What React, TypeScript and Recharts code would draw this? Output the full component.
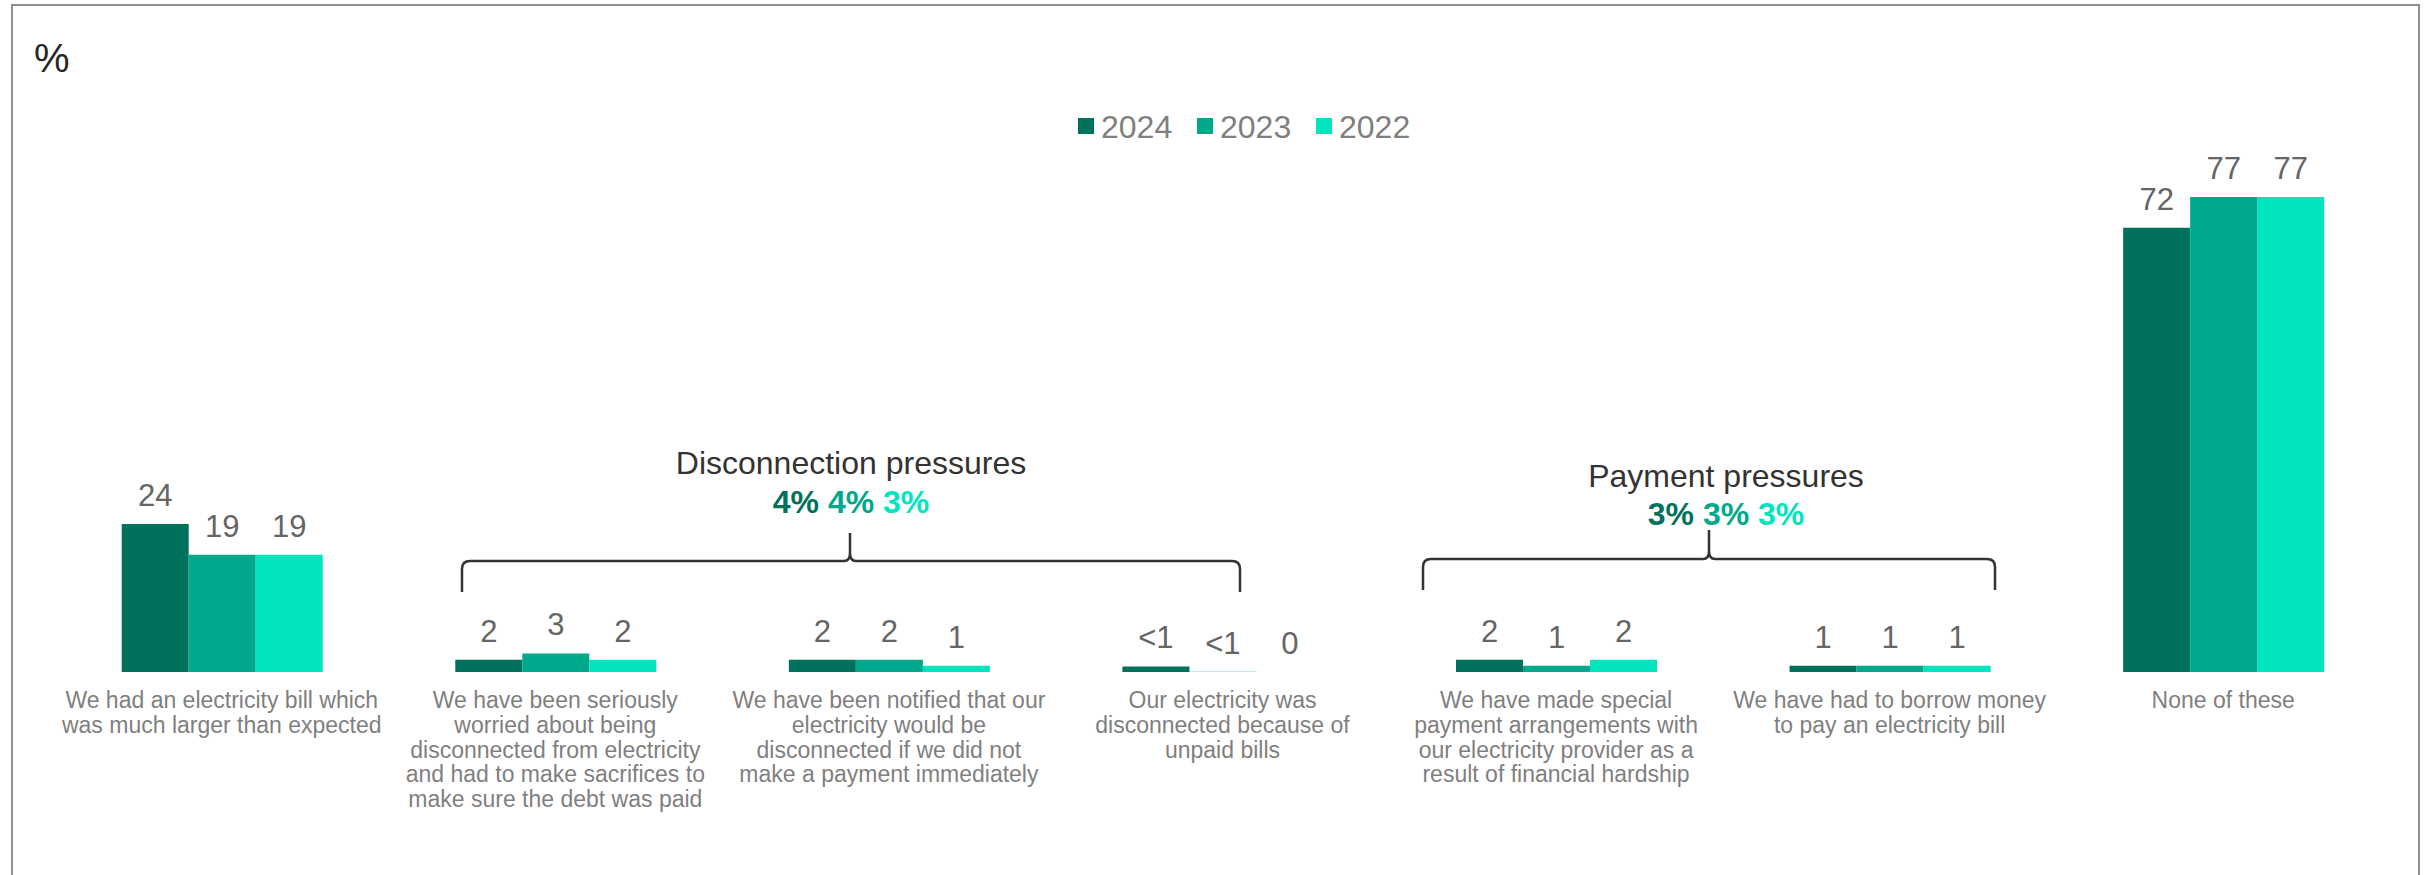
import React from 'react';
import { BarChart, Bar, XAxis, YAxis, LabelList } from 'recharts';

// ---------- data ----------
const categories: string[] = [
  'We had an electricity bill which\nwas much larger than expected',
  'We have been seriously\nworried about being\ndisconnected from electricity\nand had to make sacrifices to\nmake sure the debt was paid',
  'We have been notified that our\nelectricity would be\ndisconnected if we did not\nmake a payment immediately',
  'Our electricity was\ndisconnected because of\nunpaid bills',
  'We have made special\npayment arrangements with\nour electricity provider as a\nresult of financial hardship',
  'We have had to borrow money\nto pay an electricity bill',
  'None of these',
];
const seriesNames: string[] = ['2024', '2023', '2022'];
const values2024: number[] = [24, 2, 2, 0.9, 2, 1, 72];
const values2023: number[] = [19, 3, 2, 0.05, 1, 1, 77];
const values2022: number[] = [19, 2, 1, 0, 2, 1, 77];
const labels2024: string[] = ['24', '2', '2', '<1', '2', '1', '72'];
const labels2023: string[] = ['19', '3', '2', '<1', '1', '1', '77'];
const labels2022: string[] = ['19', '2', '1', '0', '2', '1', '77'];
const disconnectionTitle = 'Disconnection pressures';
const disconnectionTotals: string[] = ['4%', '4%', '3%'];
const paymentTitle = 'Payment pressures';
const paymentTotals: string[] = ['3%', '3%', '3%'];
const unitLabel = '%';

// ---------- styles ----------
const COLORS = ['#00725B', '#00A98B', '#00E5BE'];
const FONT = '"Liberation Sans", Arial, Helvetica, sans-serif';

const data = categories.map((c, i) => ({
  category: c,
  v2024: values2024[i],
  v2023: values2023[i],
  v2022: values2022[i],
  l2024: labels2024[i],
  l2023: labels2023[i],
  l2022: labels2022[i],
}));

const CategoryTick = (props: any) => {
  const { x, y, payload } = props;
  const lines = String(payload.value).split('\n');
  return (
    <text x={x} y={y + 36} textAnchor="middle" fill="#7f7f7f" fontSize={23} fontFamily={FONT}>
      {lines.map((l, i) => (
        <tspan key={i} x={x} dy={i === 0 ? 0 : 24.8}>
          {l}
        </tspan>
      ))}
    </text>
  );
};

function bracePath(x1: number, x2: number, xm: number, yTop: number, yBottom: number, yTip: number) {
  const r = 8;
  return [
    `M ${x1} ${yBottom}`,
    `L ${x1} ${yTop + r}`,
    `Q ${x1} ${yTop} ${x1 + r} ${yTop}`,
    `L ${xm - 6} ${yTop}`,
    `Q ${xm} ${yTop} ${xm} ${yTop - 8}`,
    `L ${xm} ${yTip}`,
    `M ${xm} ${yTop - 8}`,
    `Q ${xm} ${yTop} ${xm + 6} ${yTop}`,
    `L ${x2 - r} ${yTop}`,
    `Q ${x2} ${yTop} ${x2} ${yTop + r}`,
    `L ${x2} ${yBottom}`,
  ].join(' ');
}

const GroupNote = ({ cx, titleY, pctY, title, totals }: any) => (
  <g fontFamily={FONT}>
    <text x={cx} y={titleY} textAnchor="middle" fontSize={32} fill="#333333">
      {title}
    </text>
    <text x={cx} y={pctY} textAnchor="middle" fontSize={32} fontWeight="bold">
      {totals.map((t: string, i: number) => (
        <tspan key={i} fill={COLORS[i]}>
          {(i > 0 ? ' ' : '') + t}
        </tspan>
      ))}
    </text>
  </g>
);

export default function App() {
  return (
    <div
      style={{
        position: 'absolute',
        left: 0,
        top: 0,
        width: 2433,
        height: 875,
        overflow: 'hidden',
        background: '#ffffff',
        fontFamily: FONT,
      }}
    >
      <div
        style={{
          position: 'absolute',
          left: 11,
          top: 4,
          width: 2405,
          height: 1000,
          border: '2px solid #8f8f8f',
          borderBottom: 'none',
        }}
      />
      <div style={{ position: 'absolute', left: 0, top: 0 }}>
        <BarChart
          width={2433}
          height={875}
          data={data}
          margin={{ top: 55, right: 43, left: 55, bottom: 53 }}
          barCategoryGap="20%"
          barGap={0}
        >
          <XAxis
            dataKey="category"
            interval={0}
            tickLine={false}
            axisLine={false}
            tickSize={0}
            tickMargin={0}
            height={150}
            tick={<CategoryTick />}
          />
          <YAxis hide domain={[0, 100]} />
          {['2024', '2023', '2022'].map((s, i) => (
            <Bar
              key={s}
              dataKey={'v' + s}
              name={seriesNames[i]}
              fill={COLORS[i]}
              minPointSize={0.01}
              isAnimationActive={false}
            >
              <LabelList dataKey={'l' + s} position="top" offset={18} fill="#656565" fontSize={31} fontFamily={FONT} />
            </Bar>
          ))}
        </BarChart>
      </div>
      <svg
        width={2433}
        height={875}
        style={{ position: 'absolute', left: 0, top: 0, pointerEvents: 'none' }}
      >
        <text x={34} y={72} fontSize={40} fill="#262626" fontFamily={FONT}>
          {unitLabel}
        </text>
        {seriesNames.map((s, i) => (
          <g key={s}>
            <rect x={1078 + i * 119} y={118} width={16} height={16} fill={COLORS[i]} />
            <text x={1101 + i * 119} y={138} fontSize={32} fill="#7f7f7f" fontFamily={FONT}>
              {s}
            </text>
          </g>
        ))}
        <path d={bracePath(462, 1240, 850, 561, 592, 533)} fill="none" stroke="#333333" strokeWidth={2.5} />
        <GroupNote cx={851} titleY={474} pctY={513} title={disconnectionTitle} totals={disconnectionTotals} />
        <path d={bracePath(1423, 1995, 1709, 559, 590, 530)} fill="none" stroke="#333333" strokeWidth={2.5} />
        <GroupNote cx={1726} titleY={487} pctY={525} title={paymentTitle} totals={paymentTotals} />
      </svg>
    </div>
  );
}
